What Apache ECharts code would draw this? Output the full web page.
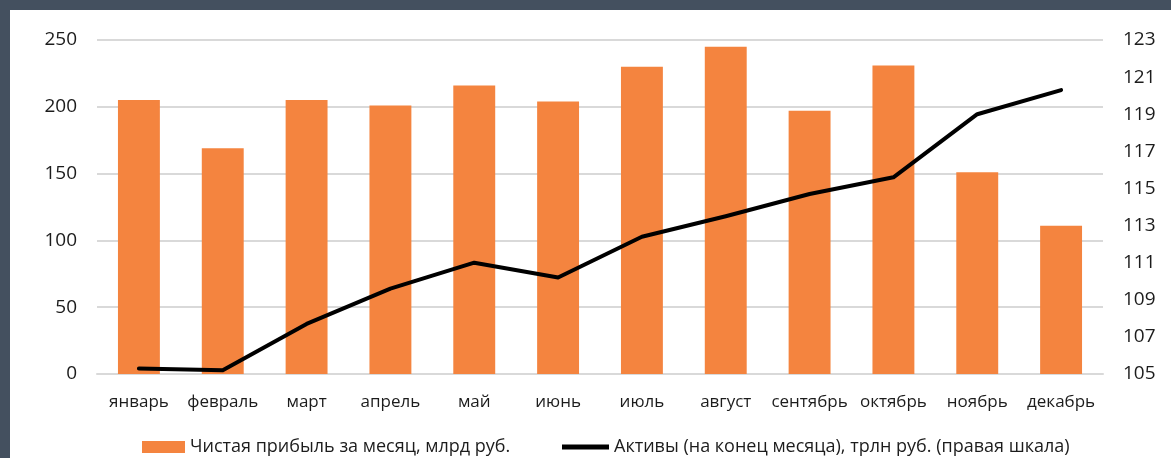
<!DOCTYPE html>
<html>
<head>
<meta charset="utf-8">
<script src="https://cdn.jsdelivr.net/npm/echarts@6/dist/echarts.min.js"></script>
<style>
html,body{margin:0;padding:0;width:1171px;height:458px;background:#44505f;overflow:hidden;}
#frame{position:absolute;left:10px;top:10px;width:1161px;height:448px;background:#fff;}
#chart{position:absolute;left:0;top:0;width:1171px;height:458px;}
</style>
</head>
<body>
<div id="frame"></div>
<div id="chart"></div>
<script>
const categories = ['январь','февраль','март','апрель','май','июнь','июль','август','сентябрь','октябрь','ноябрь','декабрь'];
const profit = [205, 169, 205, 201, 216, 204, 230, 245, 197, 231, 151, 111];
const assets = [105.3, 105.2, 107.7, 109.6, 111.0, 110.2, 112.4, 113.5, 114.7, 115.6, 119.0, 120.3];
const profitName = 'Чистая прибыль за месяц, млрд руб.';
const assetsName = 'Активы (на конец месяца), трлн руб. (правая шкала)';

const FONT = 'Open Sans';
const TXT = '#1c1c1c';
const chart = echarts.init(document.getElementById('chart'), null, {renderer:'canvas'});
chart.setOption({
  backgroundColor: 'transparent',
  animation: false,
  textStyle: {fontFamily: FONT},
  grid: {left: 97, right: 68, top: 40, bottom: 84, containLabel: false},
  legend: [
    {data: [{name: profitName, icon: 'rect'}], left: 142, top: 438, padding: 0,
     itemWidth: 43, itemHeight: 12,
     textStyle: {fontFamily: FONT, fontSize: 18, color: TXT}},
    {data: [{name: assetsName, icon: 'rect', itemStyle: {color: '#000'}}], left: 562, top: 438, padding: 0,
     itemWidth: 47, itemHeight: 5,
     textStyle: {fontFamily: FONT, fontSize: 18, color: TXT}}
  ],
  xAxis: {
    type: 'category', data: categories, boundaryGap: true,
    axisLine: {show: true, lineStyle: {color: '#d9d9d9', width: 2}},
    axisTick: {show: false},
    axisLabel: {fontFamily: FONT, fontSize: 17, color: TXT, margin: 20, interval: 0}
  },
  yAxis: [
    {type: 'value', min: 0, max: 250, interval: 50, position: 'left',
     axisLine: {show: false}, axisTick: {show: false},
     splitLine: {lineStyle: {color: '#d9d9d9', width: 2}},
     axisLabel: {fontFamily: FONT, fontSize: 19, color: TXT, margin: 20}},
    {type: 'value', min: 105, max: 123, interval: 2, position: 'right',
     axisLine: {show: false}, axisTick: {show: false}, splitLine: {show: false},
     axisLabel: {fontFamily: FONT, fontSize: 19, color: TXT, margin: 20}}
  ],
  series: [
    {name: profitName, type: 'bar', data: profit, barWidth: '50%', yAxisIndex: 0,
     itemStyle: {color: '#f4843f'}},
    {name: assetsName, type: 'line', data: assets, yAxisIndex: 1, symbol: 'none', showSymbol: false,
     lineStyle: {color: '#000', width: 4, cap: 'round', join: 'round'}, itemStyle: {color: '#000'}}
  ]
});
</script>
</body>
</html>
